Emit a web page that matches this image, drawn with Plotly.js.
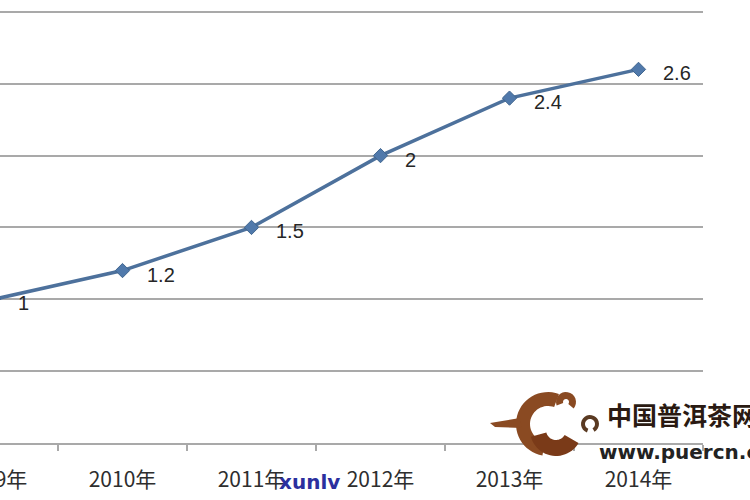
<!DOCTYPE html>
<html>
<head>
<meta charset="utf-8">
<script src="https://cdn.plot.ly/plotly-3.0.1.min.js"></script>
<style>
  html, body { margin: 0; padding: 0; overflow: hidden; background: #fff; width: 750px; height: 500px; }
  #chart { position: absolute; left: -80px; top: 0; width: 830px; height: 500px; }
</style>
</head>
<body>
<div id="chart"></div>
<script>
const categories = ['2009年', '2010年', '2011年', '2012年', '2013年', '2014年'];
const values = [1, 1.2, 1.5, 2, 2.4, 2.6];
const valueLabels = ['1', '1.2', '1.5', '2', '2.4', '2.6'];
const watermarkTitle = '中国普洱茶网';
const watermarkUrl = 'www.puercn.com';
const watermarkTag = 'xunlv';

// layout geometry (div pixels); window is shifted 80px left of the div
const OFF = 80, W = 830, H = 500, ML = 9, MR = 47, MT = 0, MB = 57;
const PW = W - ML - MR, PH = H - MT - MB;
function px(wx) { return (wx + OFF - ML) / PW; }     // window x -> paper x
function py(wy) { return (MT + PH - wy) / PH; }      // window y -> paper y

const annotations = categories.map((c, i) => ({
  x: c, y: values[i], xref: 'x', yref: 'y',
  text: valueLabels[i], showarrow: false,
  xanchor: 'left', yanchor: 'middle', xshift: 22, yshift: -4,
  font: { family: 'Liberation Sans, Arial, sans-serif', size: 20, color: '#262626' }
}));

annotations.push(
  { xref: 'paper', yref: 'paper', x: px(605), y: py(414), xanchor: 'left', yanchor: 'middle',
    text: '<b>' + watermarkTitle + '</b>', showarrow: false,
    font: { family: 'Noto Sans CJK SC, sans-serif', size: 25, color: '#2a1a12' } },
  { xref: 'paper', yref: 'paper', x: px(597), y: py(452), xanchor: 'left', yanchor: 'middle',
    text: '<b>' + watermarkUrl + '</b>', showarrow: false,
    font: { family: 'DejaVu Sans, sans-serif', size: 20, color: '#222' } },
  { xref: 'paper', yref: 'paper', x: px(277), y: py(482), xanchor: 'left', yanchor: 'middle',
    text: '<b>' + watermarkTag + '</b>', showarrow: false,
    font: { family: 'DejaVu Sans, sans-serif', size: 20, color: '#2b2f9e' } }
);

// logo path (window pixel points -> paper)
function P(pts) {
  return pts.map((p, i) => (i === 0 ? 'M' : 'L') + px(p[0]) + ',' + py(p[1])).join(' ') + ' Z';
}
function arcPath(cx, cy, r1, r2, a0, a1, n) {
  const pts = [];
  for (let k = 0; k <= n; k++) { const a = (a0 + (a1 - a0) * k / n) * Math.PI / 180; pts.push([cx + r2 * Math.cos(a), cy - r2 * Math.sin(a)]); }
  for (let k = n; k >= 0; k--) { const a = (a0 + (a1 - a0) * k / n) * Math.PI / 180; pts.push([cx + r1 * Math.cos(a), cy - r1 * Math.sin(a)]); }
  return 'M' + pts.map(p => px(p[0]) + ',' + py(p[1])).join(' L') + ' Z';
}
const brown = '#8a4a22';
const shapes = [
  { type: 'path', xref: 'paper', yref: 'paper', path: arcPath(548, 424, 18, 32, 70, 260, 30), fillcolor: brown, line: { width: 0 } },
  { type: 'path', xref: 'paper', yref: 'paper', path: arcPath(556, 430, 10, 26, 195, 330, 24), fillcolor: '#7a3a18', line: { width: 0 } },
  { type: 'path', xref: 'paper', yref: 'paper', path: arcPath(566, 402, 3, 10, -40, 200, 16), fillcolor: brown, line: { width: 0 } },
  { type: 'path', xref: 'paper', yref: 'paper', path: arcPath(590, 424, 5, 9, -60, 250, 20), fillcolor: '#5a3a22', line: { width: 0 } },
  { type: 'path', xref: 'paper', yref: 'paper', path: P([[490, 423], [520, 418], [522, 428], [495, 427]]), fillcolor: brown, line: { width: 0 } }
];

const trace = {
  x: categories, y: values, type: 'scatter', mode: 'lines+markers',
  line: { color: '#4d719c', width: 3.5 },
  marker: { symbol: 'diamond', size: 11, color: '#5079ab', line: { color: '#41668f', width: 1 } },
  cliponaxis: false, hoverinfo: 'skip'
};

const layout = {
  width: W, height: H,
  margin: { l: ML, r: MR, t: MT, b: MB, pad: 0 },
  paper_bgcolor: '#ffffff', plot_bgcolor: '#ffffff',
  showlegend: false,
  xaxis: {
    type: 'category', range: [-0.5, 5.5], showgrid: false, zeroline: false,
    showline: true, linecolor: '#a9a9a9', linewidth: 2,
    ticks: 'outside', tickson: 'boundaries', ticklen: 6, tickcolor: '#a9a9a9', tickwidth: 1.5,
    ticklabelstandoff: 17,
    tickfont: { family: 'Noto Sans CJK SC, sans-serif', size: 21, color: '#2e2e2e' }
  },
  yaxis: {
    range: [0, PH / 143.7], dtick: 0.5, tick0: 0, showticklabels: false,
    showgrid: true, gridcolor: '#a9a9a9', gridwidth: 2, zeroline: false, showline: false, ticks: ''
  },
  annotations: annotations,
  shapes: shapes
};

Plotly.newPlot('chart', [trace], layout, { staticPlot: true, displayModeBar: false });
</script>
</body>
</html>
